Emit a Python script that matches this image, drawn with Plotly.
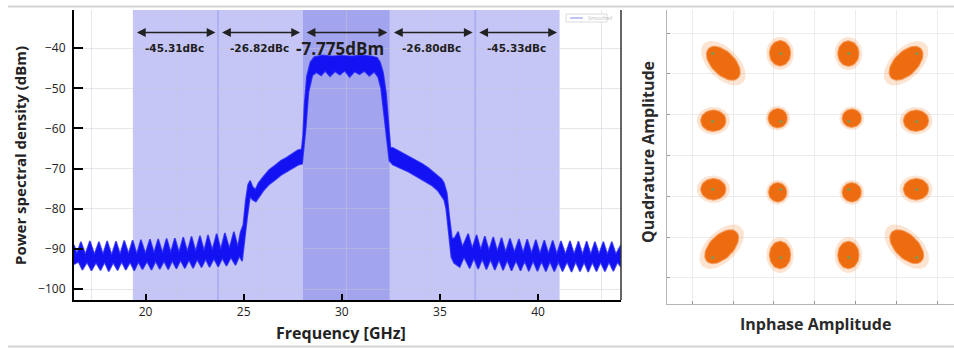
import numpy as np
import plotly.graph_objects as go

# ---------------- data: power spectral density (left panel) ----------------
psd_upper_ghz = [16.35, 16.50, 16.70, 16.93, 17.16, 17.39, 17.62, 17.83, 18.04, 18.27, 18.49, 18.70,
                 18.91, 19.13, 19.34, 19.55, 19.76, 19.99, 20.22, 20.43, 20.64, 20.86, 21.07, 21.28,
                 21.49, 21.70, 21.92, 22.13, 22.34, 22.55, 22.77, 22.98, 23.18, 23.40, 23.62, 23.83,
                 24.04, 24.27, 24.50, 24.70, 24.84,
                 24.98, 25.10, 25.22, 25.33, 25.45, 25.60, 25.75, 26.00, 26.30, 26.60, 26.90, 27.20,
                 27.50, 27.75, 27.95,
                 28.02, 28.10, 28.22, 28.40, 28.60, 29.00, 29.50, 30.00, 30.50, 31.00, 31.50, 31.80,
                 31.95, 32.10, 32.25, 32.40, 32.48,
                 32.60, 32.90, 33.20, 33.50, 33.80, 34.10, 34.40, 34.70, 34.95, 35.08, 35.20, 35.35,
                 35.48, 35.62, 35.76,
                 35.93, 36.15, 36.44, 36.65, 36.87, 37.08, 37.29, 37.50, 37.72, 37.93, 38.14, 38.35,
                 38.57, 38.80, 39.03, 39.24, 39.45, 39.67, 39.89, 40.10, 40.32, 40.53, 40.75, 40.96,
                 41.17, 41.40, 41.63, 41.84, 42.06, 42.27, 42.48, 42.69, 42.90, 43.11, 43.33, 43.54,
                 43.76, 43.97, 44.23]
psd_upper_dbm = [-89.0, -91.2, -88.2, -91.3, -88.0, -91.4, -88.2, -91.3, -88.0, -91.5, -88.1, -91.3,
                 -87.9, -91.2, -87.8, -91.3, -87.7, -91.2, -87.6, -91.0, -87.5, -91.0, -87.4, -90.9,
                 -87.3, -90.8, -87.1, -90.7, -86.9, -90.6, -86.7, -90.5, -86.5, -90.3, -86.2, -90.1,
                 -86.0, -89.9, -85.7, -89.5, -85.8,
                 -84.0, -78.0, -74.0, -73.0, -74.5, -75.2, -73.6, -72.0, -70.3, -69.2, -68.0, -67.2,
                 -66.3, -65.4, -65.2,
                 -62.0, -54.0, -47.0, -43.5, -42.2, -41.8, -42.0, -41.9, -42.0, -41.8, -42.0, -42.4,
                 -43.5, -46.0, -51.0, -60.0, -64.8,
                 -64.8, -65.6, -66.2, -67.0, -67.8, -68.8, -69.8, -71.0, -72.0, -72.6, -73.5, -76.0,
                 -82.0, -87.5, -87.2,
                 -85.7, -89.5, -86.2, -89.9, -86.5, -90.2, -86.8, -90.4, -87.0, -90.6, -87.2, -90.8,
                 -87.4, -90.9, -87.5, -91.0, -87.6, -91.1, -87.7, -91.2, -87.8, -91.2, -87.9, -91.3,
                 -88.0, -91.3, -88.0, -91.3, -88.1, -91.4, -88.1, -91.4, -88.2, -91.3, -88.2, -91.4,
                 -88.2, -91.3, -89.0]

psd_lower_ghz = [16.35, 16.58, 16.78, 17.01, 17.24, 17.47, 17.70, 17.91, 18.12, 18.35, 18.57, 18.78,
                 18.99, 19.21, 19.42, 19.63, 19.84, 20.07, 20.30, 20.51, 20.72, 20.94, 21.15, 21.36,
                 21.57, 21.78, 22.00, 22.21, 22.42, 22.63, 22.85, 23.06, 23.26, 23.48, 23.70, 23.91,
                 24.12, 24.35, 24.58, 24.78, 24.92,
                 25.05, 25.18, 25.32, 25.48, 25.62, 25.80, 26.00, 26.30, 26.60, 26.90, 27.20, 27.50,
                 27.80, 27.98,
                 28.06, 28.16, 28.30, 28.50, 28.70, 28.95, 29.15, 29.40, 29.65, 29.90, 30.15, 30.40,
                 30.65, 30.90, 31.15, 31.40, 31.65, 31.85, 32.00, 32.15, 32.30, 32.42,
                 32.60, 33.00, 33.40, 33.80, 34.20, 34.60, 34.90, 35.10, 35.22, 35.32, 35.45, 35.58,
                 35.72,
                 36.01, 36.23, 36.52, 36.73, 36.95, 37.16, 37.37, 37.58, 37.80, 38.01, 38.22, 38.43,
                 38.65, 38.88, 39.11, 39.32, 39.53, 39.75, 39.97, 40.18, 40.40, 40.61, 40.83, 41.04,
                 41.25, 41.48, 41.71, 41.92, 42.14, 42.35, 42.56, 42.77, 42.98, 43.19, 43.41, 43.62,
                 43.84, 44.05, 44.23]
psd_lower_dbm = [-93.8, -93.2, -95.2, -93.3, -95.4, -93.4, -95.3, -93.3, -95.6, -93.4, -95.3, -93.2,
                 -95.2, -93.3, -95.4, -93.2, -95.1, -93.1, -95.2, -93.0, -95.0, -93.0, -95.1, -92.9,
                 -94.9, -92.8, -94.8, -92.7, -94.8, -92.6, -94.6, -92.5, -94.5, -92.4, -94.4, -92.3,
                 -94.2, -92.1, -94.0, -91.8, -93.0,
                 -88.0, -82.0, -77.0, -77.8, -78.2, -76.8, -75.5, -73.9, -72.8, -71.6, -70.6, -69.8,
                 -69.0, -68.8,
                 -66.0, -60.0, -51.0, -46.8, -46.0, -46.8, -45.7, -47.0, -45.8, -46.6, -45.6, -47.2,
                 -45.8, -46.5, -45.7, -46.9, -45.9, -47.2, -50.0, -56.0, -63.0, -68.0,
                 -69.0, -69.9, -70.8, -72.0, -73.0, -74.2, -75.5, -76.8, -77.8, -80.0, -86.0, -92.0,
                 -93.5,
                 -94.5, -92.0, -94.8, -92.3, -95.0, -92.5, -95.1, -92.6, -95.2, -92.7, -95.3, -92.8,
                 -95.4, -92.9, -95.4, -93.0, -95.5, -93.0, -95.5, -93.1, -95.6, -93.1, -95.6, -93.2,
                 -95.6, -93.2, -95.7, -93.2, -95.6, -93.3, -95.7, -93.3, -95.6, -93.3, -95.6, -93.3,
                 -95.5, -93.3, -94.5]

# integration bands (GHz): outer-left, adjacent-left, channel, adjacent-right, outer-right
band_edges_ghz = [19.35, 23.69, 28.00, 32.45, 36.80, 41.10]
band_labels = ["-45.31dBc", "-26.82dBc", "-7.775dBm", "-26.80dBc", "-45.33dBc"]
band_label_dbm = -40.0
band_arrow_dbm = -36.1

x_ticks = [20, 25, 30, 35, 40]
y_ticks = [-40, -50, -60, -70, -80, -90, -100]
x_grid_ghz = [17.26, 21.59, 25.92, 30.25, 34.58, 38.91, 43.24]

# ---------------- data: 16-QAM constellation (right panel) ----------------
ideal_levels = [-1.0, -1/3, 1/3, 1.0]
cluster_i = [-0.896, -0.340, 0.330, 0.895,
             -0.994, -0.363, 0.363, 0.993,
             -0.994, -0.363, 0.363, 0.993,
             -0.912, -0.340, 0.330, 0.902]
cluster_q = [0.905, 1.003, 1.000, 0.905,
             0.342, 0.366, 0.366, 0.342,
             -0.330, -0.360, -0.360, -0.330,
             -0.893, -0.975, -0.975, -0.893]
cluster_rx = [0.20, 0.10, 0.10, 0.20,
              0.12, 0.09, 0.09, 0.12,
              0.12, 0.085, 0.09, 0.12,
              0.20, 0.10, 0.10, 0.20]
cluster_ry = [0.11, 0.12, 0.12, 0.11,
              0.10, 0.09, 0.085, 0.10,
              0.10, 0.09, 0.09, 0.10,
              0.11, 0.13, 0.13, 0.11]
cluster_tilt_deg = [-45, 0, 0, 45,
                    0, 0, 0, 0,
                    0, 0, 0, 0,
                    45, 0, 0, -45]
iq_grid = [-1.2, -0.8, -0.4, 0.0, 0.4, 0.8, 1.2]

# ---------------- figure ----------------
W, H = 954, 348
BLUE = "rgb(18,18,242)"
ORANGE = "rgb(238,108,16)"
FONT = "Open Sans"

fig = go.Figure()

# PSD band trace
fig.add_trace(go.Scatter(
    x=psd_upper_ghz + psd_lower_ghz[::-1],
    y=psd_upper_dbm + psd_lower_dbm[::-1],
    mode="lines", fill="toself", fillcolor=BLUE,
    line=dict(color="rgba(25,25,245,0.75)", width=1.6),
    xaxis="x", yaxis="y", hoverinfo="skip", name="Smoothed"))

# constellation clusters (ellipse blobs)
t = np.linspace(0, 2 * np.pi, 48)
def blob(scale):
    xs, ys = [], []
    for cx, cy, a, b, th in zip(cluster_i, cluster_q, cluster_rx, cluster_ry, cluster_tilt_deg):
        r = np.deg2rad(th)
        ex = cx + scale * (a * np.cos(t) * np.cos(r) - b * np.sin(t) * np.sin(r))
        ey = cy + scale * (a * np.cos(t) * np.sin(r) + b * np.sin(t) * np.cos(r))
        xs += list(ex) + [None]
        ys += list(ey) + [None]
    return xs, ys

hx, hy = blob(1.35)
fig.add_trace(go.Scatter(x=hx, y=hy, mode="lines", fill="toself",
                         fillcolor="rgba(242,130,50,0.22)", line=dict(width=0),
                         xaxis="x2", yaxis="y2", hoverinfo="skip"))
cx_, cy_ = blob(1.0)
fig.add_trace(go.Scatter(x=cx_, y=cy_, mode="lines", fill="toself",
                         fillcolor=ORANGE, line=dict(color="rgba(238,108,16,0.6)", width=2),
                         xaxis="x2", yaxis="y2", hoverinfo="skip"))
ideal_i = [i for q in ideal_levels for i in ideal_levels]
ideal_q = [q for q in ideal_levels for i in ideal_levels]
fig.add_trace(go.Scatter(x=ideal_i, y=ideal_q, mode="markers",
                         marker=dict(size=3, color="#7d9a58"),
                         xaxis="x2", yaxis="y2", hoverinfo="skip"))

shapes = []
# shaded integration bands
for k in range(5):
    shapes.append(dict(type="rect", xref="x", yref="y domain",
                       x0=band_edges_ghz[k], x1=band_edges_ghz[k + 1], y0=0, y1=1,
                       fillcolor="#a3a4ee" if k == 2 else "#c5c6f6",
                       line=dict(width=0), layer="below"))
for xe in (band_edges_ghz[1], band_edges_ghz[4]):
    shapes.append(dict(type="line", xref="x", yref="y domain", x0=xe, x1=xe, y0=0, y1=1,
                       line=dict(color="#aeb0f2", width=2), layer="below"))
# right border of PSD frame
shapes.append(dict(type="line", xref="x domain", yref="y domain", x0=1, x1=1, y0=0, y1=1,
                   line=dict(color="#333333", width=1.5)))
# tiny legend box
shapes.append(dict(type="rect", xref="paper", yref="paper",
                   x0=566 / W, x1=607 / W, y0=1 - 22 / H, y1=1 - 14 / H,
                   line=dict(color="#dcdcdc", width=1), fillcolor="white"))
shapes.append(dict(type="line", xref="paper", yref="paper",
                   x0=570 / W, x1=583 / W, y0=1 - 18 / H, y1=1 - 18 / H,
                   line=dict(color="#a8b4f0", width=1.5)))
# picture frame lines
shapes.append(dict(type="line", xref="paper", yref="paper", x0=8 / W, x1=1, y0=1 - 6.5 / H, y1=1 - 6.5 / H,
                   line=dict(color="#d4d4d4", width=2)))
shapes.append(dict(type="line", xref="paper", yref="paper", x0=8 / W, x1=1, y0=1.5 / H, y1=1.5 / H,
                   line=dict(color="#d4d4d4", width=2)))

annotations = []
inset = 0.13
for k in range(5):
    x0, x1 = band_edges_ghz[k], band_edges_ghz[k + 1]
    annotations.append(dict(x=x1 - inset, y=band_arrow_dbm, ax=x0 + inset, ay=band_arrow_dbm,
                            xref="x", yref="y", axref="x", ayref="y", text="",
                            showarrow=True, arrowhead=2, arrowside="end+start",
                            arrowsize=1.1, arrowwidth=1.6, arrowcolor="#222222"))
    big = k == 2
    annotations.append(dict(x=(x0 + x1) / 2 - (0.3 if big else 0.05), y=band_label_dbm,
                            xref="x", yref="y",
                            text="<b>" + band_labels[k] + "</b>",
                            showarrow=False,
                            font=dict(family=FONT if big else "DejaVu Sans",
                                      size=17 if big else 10.5, color="#1e1e1e"),
                            xanchor="center", yanchor="middle"))
annotations.append(dict(x=586 / W, y=1 - 18 / H, xref="paper", yref="paper", text="Smoothed",
                        showarrow=False, font=dict(family=FONT, size=5, color="#c2c2c2"),
                        xanchor="left", yanchor="middle"))
# axis titles
annotations += [
    dict(x=20 / W, y=1 - 156 / H, xref="paper", yref="paper", text="<b>Power spectral density (dBm)</b>",
         textangle=-90, showarrow=False, font=dict(family=FONT, size=15, color="#222222"),
         xanchor="center", yanchor="middle"),
    dict(x=341 / W, y=1 - 333 / H, xref="paper", yref="paper", text="<b>Frequency [GHz]</b>",
         showarrow=False, font=dict(family=FONT, size=16, color="#222222"), xanchor="center", yanchor="middle"),
    dict(x=648 / W, y=1 - 152 / H, xref="paper", yref="paper", text="<b>Quadrature Amplitude</b>",
         textangle=-90, showarrow=False, font=dict(family=FONT, size=16, color="#2a2a2a"),
         xanchor="center", yanchor="middle"),
    dict(x=815 / W, y=1 - 324 / H, xref="paper", yref="paper", text="<b>Inphase Amplitude</b>",
         showarrow=False, font=dict(family=FONT, size=16, color="#2a2a2a"), xanchor="center", yanchor="middle"),
]

fig.update_layout(
    width=W, height=H, margin=dict(l=0, r=0, t=0, b=0),
    paper_bgcolor="white", plot_bgcolor="rgba(0,0,0,0)", showlegend=False,
    shapes=shapes, annotations=annotations,
    xaxis=dict(domain=[74 / W, 621 / W], range=[16.35, 44.23], anchor="y",
               tickmode="array", tickvals=x_ticks, ticks="inside", ticklen=6, tickwidth=2,
               tickcolor="black", showline=True, linecolor="black", linewidth=2,
               showgrid=False, zeroline=False,
               minor=dict(tickmode="array", tickvals=x_grid_ghz, showgrid=True,
                          gridcolor="rgba(200,200,215,0.45)", gridwidth=1, ticks=""),
               tickfont=dict(family=FONT, size=12, color="#222222")),
    yaxis=dict(domain=[48 / H, 338 / H], range=[-102.7, -30.5], anchor="x",
               tickmode="array", tickvals=y_ticks, ticks="inside", ticklen=9, tickwidth=2,
               tickcolor="black", showline=True, linecolor="black", linewidth=2,
               showgrid=True, gridcolor="rgba(200,200,215,0.45)", zeroline=False,
               tickfont=dict(family=FONT, size=12, color="#222222"), ticklabelstandoff=4),
    xaxis2=dict(domain=[667 / W, 1.0], range=[-1.448, 1.365], anchor="y2",
                tickmode="array", tickvals=iq_grid, showticklabels=False,
                ticks="inside", ticklen=3, tickcolor="#999999",
                showline=True, linecolor="#b5b5b5", linewidth=1,
                showgrid=True, gridcolor="#ececec", zeroline=False),
    yaxis2=dict(domain=[44 / H, 338 / H], range=[-1.455, 1.427], anchor="x2",
                tickmode="array", tickvals=iq_grid, showticklabels=False,
                ticks="inside", ticklen=3, tickcolor="#999999",
                showline=True, linecolor="#b5b5b5", linewidth=1,
                showgrid=True, gridcolor="#ececec", zeroline=False),
)

fig.write_html("out.html", config={"displayModeBar": False, "staticPlot": True},
               post_script="document.body.style.margin='0px';document.body.style.overflow='hidden';")
